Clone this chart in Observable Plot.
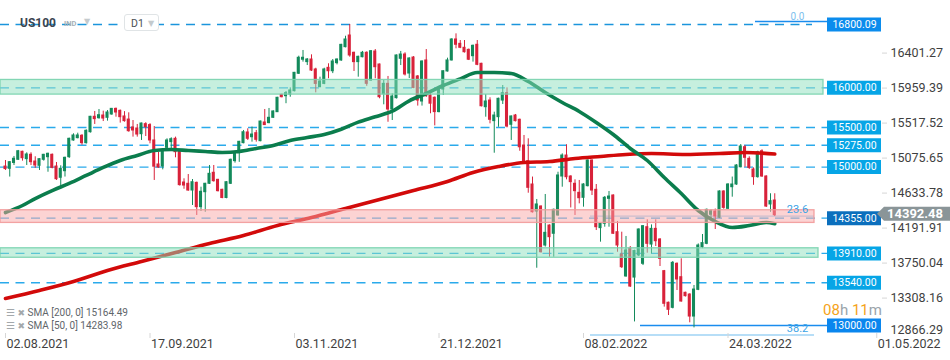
<!DOCTYPE html>
<html><head><meta charset="utf-8">
<script src="https://cdn.jsdelivr.net/npm/d3@7"></script>
<script src="https://cdn.jsdelivr.net/npm/@observablehq/plot@0.6"></script>
<style>
html,body{margin:0;padding:0;background:#fff;}
#wrap{position:relative;width:950px;height:360px;overflow:hidden;font-family:Roboto,"Noto Sans",sans-serif;}
#wrap svg{position:absolute;left:0;top:0;}
.ov{position:absolute;z-index:2;white-space:nowrap;line-height:1;}
</style></head>
<body><div id="wrap"></div>
<script>
// ---- candle data (daily bars, US100, D1) ----
const opens = [15007,14978,15052,15092,15193,15100,15155,15070,15016,15092,15125,15155,15007,14865,14948,15125,15336,15365,15395,15302,
15440,15635,15617,15651,15622,15664,15735,15710,15639,15600,15500,15487,15415,15542,15530,15336,15033,15007,15243,15315,
15357,15209,14805,14789,14704,14801,14494,14683,14789,14928,14839,14713,14610,14789,15075,15175,15302,15437,15377,15428,
15327,15563,15555,15622,15693,15912,15895,15916,15958,16178,16355,16325,16358,16232,16010,16050,16253,16210,16312,16346,
16514,16661,16443,16325,16387,16443,16093,16459,16295,15920,16051,15727,15870,16367,16421,16181,16383,16144,15828,16346,
15904,15875,15694,15979,16207,16346,16611,16556,16506,16480,16400,16544,16304,15756,15840,15580,15630,15840,15933,15534,
15651,15597,15272,15075,14780,14439,14502,14010,14262,14158,14389,14881,15146,14881,14789,14675,14612,14759,15083,14713,
14229,14284,14599,14641,14178,13896,13619,13971,13605,13884,13779,14241,14022,14220,14086,13686,13287,13223,13779,13610,
13413,13391,13113,13450,13990,14031,14398,14439,14360,14692,14473,14746,14780,14998,15251,15104,14970,14873,15200,14881,
14528,14578];
const highs = [15083,15070,15134,15210,15200,15180,15180,15130,15105,15160,15175,15165,15058,15016,15125,15365,15420,15428,15410,15470,
15640,15702,15727,15706,15714,15740,15745,15720,15700,15685,15588,15538,15555,15560,15548,15512,15184,15205,15357,15370,
15378,15215,14852,14906,14843,14810,14746,14795,15020,15020,14845,14720,14815,15100,15180,15325,15462,15483,15505,15462,
15580,15727,15740,15710,15880,15920,15954,16000,16195,16400,16472,16370,16417,16248,16135,16248,16304,16358,16365,16550,
16652,16800,16450,16400,16460,16455,16470,16484,16300,16093,16144,15925,16415,16460,16443,16380,16395,16156,16340,16484,
15967,15885,15985,16215,16375,16620,16682,16598,16598,16490,16540,16598,16310,15916,15875,15693,15870,16030,16000,15645,
15664,15605,15399,15357,14874,14591,14510,14654,14270,14470,14935,15167,15281,14890,14839,14831,14790,15090,15090,14780,
14290,14628,14692,14650,14313,14178,14124,13997,13950,14220,14262,14334,14270,14334,14095,13695,13295,13808,13790,13842,
13420,13400,13505,14030,14149,14470,14460,14470,14700,14700,14790,14874,15030,15285,15272,15130,14990,15200,15218,14890,
14663,14663];
const lows = [14957,14874,15020,15085,15075,15020,15020,14985,14957,15075,14935,14978,14831,14746,14874,15110,15327,15357,15276,15290,
15430,15538,15605,15575,15580,15655,15630,15555,15567,15440,15378,15378,15336,15386,15294,14831,14985,14965,15209,15209,
15117,14760,14720,14695,14515,14389,14439,14430,14780,14810,14686,14600,14600,14780,15050,15060,15294,15336,15315,15315,
15320,15525,15547,15615,15690,15875,15800,15882,15950,16170,16325,16282,16207,15937,16000,16040,16115,16180,16290,16335,
16505,16387,16207,16135,16380,16020,16085,16115,15862,15786,15566,15588,15860,16282,16150,16118,15990,15770,15770,15880,
15673,15520,15685,15904,16200,16340,16493,16495,16440,16345,16325,16280,15760,15630,15546,15175,15503,15790,15495,15336,
15570,15200,15050,14670,14420,13723,13915,13990,13862,13862,14380,14746,14839,14484,14389,14536,14494,14750,14641,14199,
14052,14241,14241,14150,13925,13720,13610,13480,13045,13870,13757,13913,13905,13997,13745,13232,13126,13210,13442,13295,
13360,13034,12970,13440,13970,14020,14325,14212,14350,14468,14465,14620,14770,14990,14998,14970,14770,14860,14870,14490,
14430,14376];
const closes = [14975,15062,15105,15200,15112,15159,15062,15020,15100,15155,15168,14990,14847,14978,15117,15357,15399,15399,15302,15458,
15635,15605,15655,15613,15689,15735,15689,15630,15580,15453,15462,15411,15550,15504,15336,15005,14995,15200,15336,15352,
15188,14772,14767,14704,14809,14494,14688,14789,14915,14822,14696,14610,14809,15092,15175,15319,15440,15357,15411,15344,
15575,15530,15622,15702,15875,15882,15933,15967,16190,16380,16380,16358,16219,16050,16080,16232,16210,16333,16358,16543,
16611,16409,16325,16392,16443,16051,16463,16261,15882,16051,15727,15891,16409,16421,16169,16371,15999,15840,16333,15895,
15800,15694,15979,16210,16346,16611,16544,16506,16450,16355,16531,16291,15768,15828,15597,15651,15862,15933,15512,15639,
15580,15250,15062,14738,14430,14528,13925,14170,14115,14460,14894,15146,14872,14810,14696,14607,14780,15083,14704,14241,
14284,14612,14628,14158,14010,13736,13947,13492,13940,14212,14254,14031,14220,14064,13842,13274,13198,13791,13581,13303,
13370,13113,13454,14010,14040,14460,14443,14376,14692,14485,14780,14780,15020,15260,15117,14990,14873,15188,14881,14502,
14570,14392.48];

// ---- moving averages (bar index -> value) ----
const sma50Idx = [0,4,7,11,15,19,23,27,31,35,39,43,47,51,55,59,63,67,71,75,79,83,87,91,95,99,103,107,111,115,119,123,127,131,135,139,143,147,151,155,159,163,167,171,175,179,181];
const sma50Val = [14426,14515,14603,14704,14793,14894,14995,15083,15146,15209,15222,15209,15197,15184,15197,15235,15272,15336,15373,15411,15478,15567,15635,15706,15837,15929,16030,16114,16194,16194,16181,16080,15941,15815,15702,15563,15411,15235,15083,14868,14666,14452,14313,14237,14262,14300,14283.98];
const sma200Idx = [0,8,16,24,32,40,48,56,64,72,80,88,96,104,110,116,122,128,134,140,146,152,160,168,174,181];
const sma200Val = [13341,13442,13555,13694,13808,13921,14035,14136,14262,14363,14477,14591,14704,14818,14932,15007,15058,15070,15108,15134,15159,15171,15159,15171,15184,15164.49];

// ---- horizontal levels ----
const levelValues = [16800.09,16000,15500,15275,15000,14355,13910,13540,13000];
const levelBoxColors = ["#0b8ced","#06a5e6","#06a5e6","#06a5e6","#06a5e6","#0b6fbd","#06a5e6","#06a5e6","#0a86ee"];
const levelDashed = [true,true,true,true,true,true,true,true,false];
const zoneLow  = [15915,14295,13855];
const zoneHigh = [16100,14455,13975];
const zoneKind = ["green","red","green"];
const fibValues = [16838,14382,12880];
const fibLabels = ["0.0","23.6","38.2"];

// ---- axes ----
const yTicks = [16401.27,15959.39,15517.52,15075.65,14633.78,14191.91,13750.04,13308.16,12866.29];
const xTickIdx = [0,34,68,102,136,170,205];
const xTickLabels = ["02.08.2021","17.09.2021","03.11.2021","21.12.2021","08.02.2022","24.03.2022","01.05.2022"];
const smaLegend = [["SMA [200,  0]", 15164.49],["SMA [50,  0]", 14283.98]];

// ---- build ----
const candles = opens.map((o,i)=>({i, open:o, high:highs[i], low:lows[i], close:closes[i]}));
const GREEN="#138a5b", RED="#d8223a";
const col = d => d.close >= d.open ? GREEN : RED;
const sma50 = sma50Idx.map((x,k)=>({x, v:sma50Val[k]}));
const sma200 = sma200Idx.map((x,k)=>({x, v:sma200Val[k]}));
const levels = levelValues.map((v,k)=>({v, c:levelBoxColors[k], dashed:levelDashed[k]}));
const zones = zoneLow.map((lo,k)=>({lo, hi:zoneHigh[k], kind:zoneKind[k]}));
const fibs = fibValues.map((v,k)=>({v, t:fibLabels[k]}));
const xLab = new Map(xTickIdx.map((d,k)=>[d, xTickLabels[k]]));
const last = closes[closes.length-1];
const Y_MIN = 12899, Y_MAX = 17103;

const zoneMark = (z, insetRight) => Plot.rect([z], {
  y1:"lo", y2:"hi",
  fill: z.kind==="green" ? "#8ddfbe" : "#f9a7a7", fillOpacity:0.5,
  stroke: z.kind==="green" ? "#79d3ae" : "#f29a9a", strokeWidth:1.3, strokeOpacity:0.9,
  insetRight
});

const chart = Plot.plot({
  width:950, height:360,
  marginLeft:0, marginRight:68, marginTop:0, marginBottom:27,
  style:{fontFamily:"Roboto, 'Noto Sans', sans-serif", background:"#fff", overflow:"visible"},
  x:{domain:[-1.176, 206.35], axis:null},
  y:{domain:[Y_MIN, Y_MAX], axis:null},
  marks:[
    // dashed level lines
    Plot.ruleY(levels.filter(d=>d.dashed && d.v>16500), {y:"v", stroke:"#1b95dc", strokeWidth:1.4, strokeDasharray:"9,6.5", insetRight:70}),
    Plot.ruleY(levels.filter(d=>d.dashed && d.v<16500), {y:"v", stroke:"#2aaaeb", strokeWidth:1.4, strokeDasharray:"9,6.5", insetRight:55}),
    Plot.ruleY(levels.filter(d=>!d.dashed), {y:"v", stroke:"#1a8cee", strokeWidth:1.4, insetLeft:640, insetRight:55}),
    // fib lines
    Plot.ruleY(fibs.filter(d=>d.t==="0.0"), {y:"v", stroke:"#1a8cee", strokeWidth:1.4, insetLeft:755, insetRight:55}),
    Plot.ruleY(fibs.filter(d=>d.t!=="0.0"), {y:"v", stroke:"#9fd3f4", strokeWidth:1.3, insetLeft:590, insetRight:68}),
    // candles
    Plot.ruleX(candles, {x:"i", y1:"low", y2:"high", stroke:col, strokeWidth:1}),
    Plot.rect(candles, {x1:d=>d.i-0.36, x2:d=>d.i+0.36, y1:"open", y2:"close", fill:col, insetTop:-0.5, insetBottom:-0.5}),
    // moving averages
    Plot.line(sma200, {x:"x", y:"v", stroke:"#d20a0a", strokeWidth:3.6, curve:"monotone-x"}),
    Plot.line(sma50, {x:"x", y:"v", stroke:"#0b7d4d", strokeWidth:3.6, curve:"monotone-x"}),
    // zones (semi-transparent, on top)
    zoneMark(zones[0], 59),
    zoneMark(zones[1], 68),
    zoneMark(zones[2], 64),
    // fib labels
    Plot.text(fibs.filter(d=>d.t!=="0.0"), {y:"v", text:"t", frameAnchor:"right", dx:-85, dy:-3, textAnchor:"middle", lineAnchor:"bottom", fill:"#3aa3e6", fontSize:11}),
    Plot.text(fibs.filter(d=>d.t==="0.0"), {y:"v", text:"t", frameAnchor:"right", dx:-85, dy:-1, textAnchor:"middle", lineAnchor:"bottom", fill:"#7dc0ee", fontSize:10}),
    // level label boxes
    Plot.ruleY(levels, {y:"v", stroke:"c", strokeWidth:14, insetLeft:827, insetRight:1}),
    Plot.text(levels, {y:"v", text:d=>d.v.toFixed(2), frameAnchor:"right", dx:-28, textAnchor:"middle", fill:"#fff", fontSize:10.5}),
    // right axis
    Plot.ruleY(yTicks.filter(d=>d>=Y_MIN), {y:d=>d, insetLeft:882, insetRight:-5, stroke:"#d6d6d6", dy:-3}),
    Plot.text(yTicks.filter(d=>d>=Y_MIN), {y:d=>d, text:d=>d.toFixed(2), frameAnchor:"right", dx:8, dy:-3, textAnchor:"start", fill:"#3f3f3f", fontSize:12.5}),
    Plot.text(yTicks.filter(d=>d<Y_MIN), {y:d=>d, text:d=>d.toFixed(2), frameAnchor:"right", dx:8, dy:-6.5, textAnchor:"start", fill:"#3f3f3f", fontSize:12.5}),
    // bottom axis
    Plot.ruleX(xTickIdx, {x:d=>d, insetTop:333, insetBottom:-5, stroke:"#d6d6d6"}),
    Plot.text(xTickIdx, {x:d=>d, text:d=>xLab.get(d), frameAnchor:"bottom", dy:14, dx:1, textAnchor:"start", fill:"#3f3f3f", fontSize:12.5})
  ]
});

const wrap = document.getElementById("wrap");
wrap.appendChild(chart);

// current price tag
const ys = chart.scale("y");
const py = ys.apply(last) - 1;
const g = d3.select(chart).append("g");
g.append("path")
  .attr("d", `M877,${py} L884,${py-7} L950,${py-7} L950,${py+7} L884,${py+7} Z`)
  .attr("fill", "#8a9598");
g.append("text").attr("x", 915).attr("y", py).attr("dy", "0.36em")
  .attr("text-anchor", "middle").attr("fill", "#fff").attr("font-weight", "bold")
  .attr("font-size", 13).attr("font-family", "Roboto, sans-serif").text(last.toFixed(2));

// overlays: header, legend, countdown
function ov(html, css){ const d=document.createElement("div"); d.className="ov"; d.style.cssText=css; d.innerHTML=html; wrap.appendChild(d); return d; }
ov("US100", "left:20px;top:17px;font-size:12px;font-weight:bold;color:#3a4550;");
ov("IND", "left:64px;top:20px;font-size:7.5px;font-weight:bold;color:#a5afb6;");
ov("▼", "left:84px;top:18px;font-size:8px;color:#c4cacd;font-family:'DejaVu Sans';");
ov("<span style='position:absolute;left:6px;top:4px;font-size:10.5px;color:#4a4f54'>D1</span><span style='position:absolute;left:23px;top:5px;font-size:8px;color:#c4cacd;font-family:DejaVu Sans'>▼</span>",
   "left:124px;top:14px;width:35px;height:17px;border:1px solid #e0e4e6;border-radius:3px;background:#fff;box-sizing:border-box;");
smaLegend.forEach((s,k)=>{
  ov(`<span style="color:#a3a8ab;font-family:'DejaVu Sans';font-size:10px">☰</span> <span style="color:#a3a8ab;font-family:'DejaVu Sans';font-size:9px">✖</span> <span style="color:#5f666b">${s[0]} ${s[1].toFixed(2)}</span>`,
     `left:6px;top:${308 + k*12.5}px;font-size:10px;`);
});
ov("<span style='color:#f5a31a'>08</span><span style='color:#9aa4aa'>h</span> <span style='color:#f5a31a'>11</span><span style='color:#9aa4aa'>m</span>",
   "left:823px;top:303px;font-size:15px;");
</script></body></html>
